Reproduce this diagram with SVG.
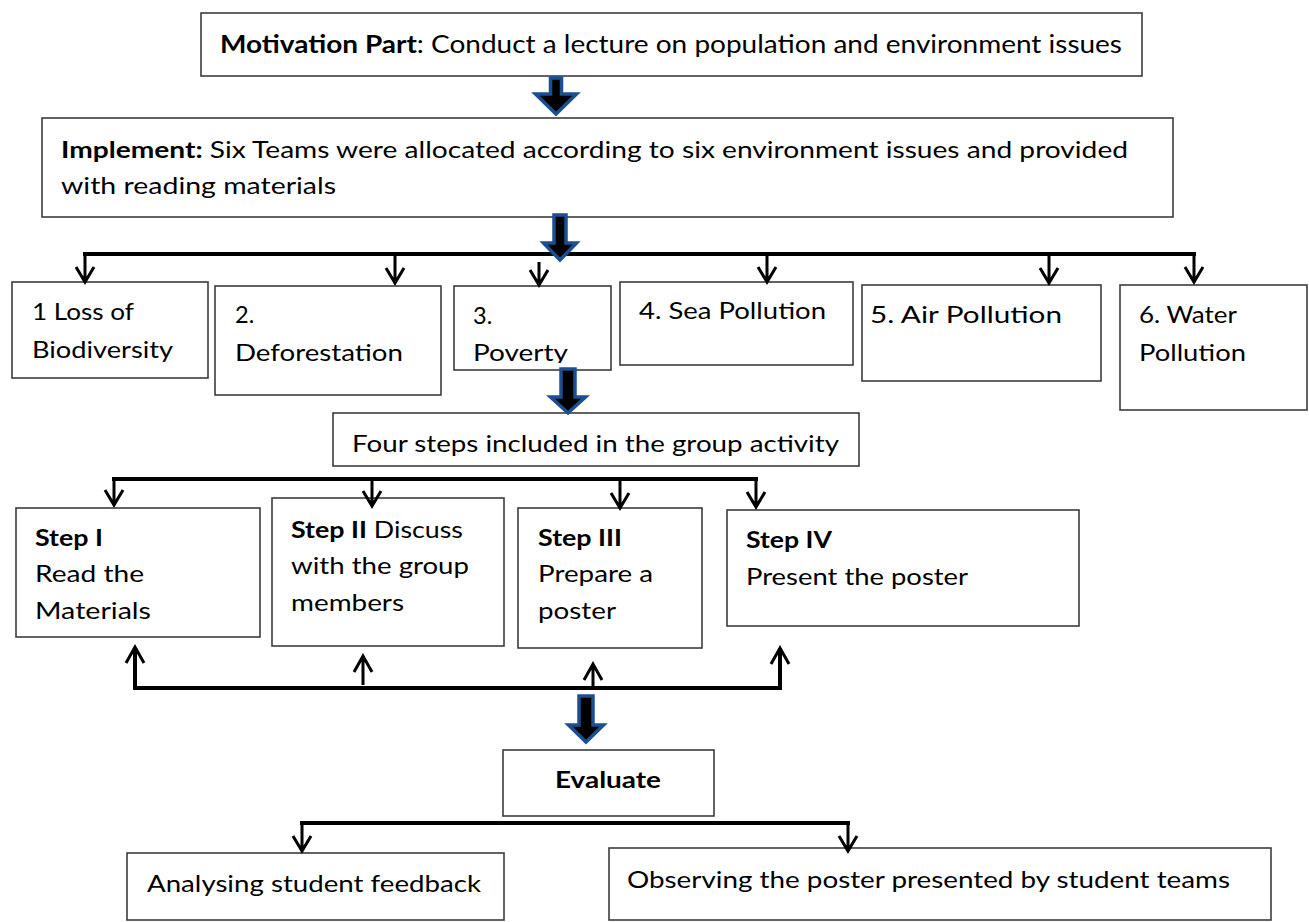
<svg xmlns="http://www.w3.org/2000/svg" width="1309" height="922" viewBox="0 0 1309 922">
<style>
.box{fill:#fff;stroke:#3c3c3c;stroke-width:1.6}
.t{font-family:Lato,"Liberation Sans",sans-serif;font-size:23.5px;fill:#000}
.b{font-weight:bold}
.line{fill:none;stroke:#000;stroke-width:4;stroke-linecap:square;stroke-linejoin:miter}
.arr{fill:none;stroke:#000;stroke-width:3}
.blk{fill:#000;stroke:#1b4f91;stroke-width:3.5;stroke-linejoin:miter}
</style>
<defs>
<clipPath id="clip3"><rect x="454" y="286" width="157" height="77"/></clipPath>
</defs>
<rect width="1309" height="922" fill="#fff"/>

<g id="motivation">
<rect class="box" x="201" y="13" width="941" height="63"/>
<text class="t" x="220" y="53" style="font-size:25.5px" textLength="902" lengthAdjust="spacingAndGlyphs"><tspan class="b">Motivation Part</tspan>: Conduct a lecture on population and environment issues</text>
</g>

<g id="implement">
<rect class="box" x="42" y="118" width="1131" height="99"/>
<text class="t" x="61" y="158" textLength="1067" lengthAdjust="spacingAndGlyphs"><tspan class="b">Implement:</tspan> Six Teams were allocated according to six environment issues and provided</text>
<text class="t" x="61" y="194" textLength="275" lengthAdjust="spacingAndGlyphs">with reading materials</text>
</g>

<g id="issue1">
<rect class="box" x="12" y="282" width="196" height="96"/>
<text class="t" x="32" y="320" textLength="102" lengthAdjust="spacingAndGlyphs">1 Loss of</text>
<text class="t" x="32" y="358" textLength="141" lengthAdjust="spacingAndGlyphs">Biodiversity</text>
</g>

<g id="issue2">
<rect class="box" x="215" y="286" width="226" height="109"/>
<text class="t" x="235" y="323">2.</text>
<text class="t" x="235" y="361" textLength="168" lengthAdjust="spacingAndGlyphs">Deforestation</text>
</g>

<g id="issue3">
<rect class="box" x="454" y="286" width="157" height="84"/>
<g clip-path="url(#clip3)">
<text class="t" x="473" y="324">3.</text>
<text class="t" x="473" y="361" textLength="95" lengthAdjust="spacingAndGlyphs">Poverty</text>
</g>
</g>

<g id="issue4">
<rect class="box" x="620" y="282" width="233" height="83"/>
<text class="t" x="639" y="319" textLength="187" lengthAdjust="spacingAndGlyphs">4. Sea Pollution</text>
</g>

<g id="issue5">
<rect class="box" x="862" y="285" width="239" height="96"/>
<text class="t" x="870" y="323" textLength="192" lengthAdjust="spacingAndGlyphs">5. Air Pollution</text>
</g>

<g id="issue6">
<rect class="box" x="1120" y="285" width="187" height="125"/>
<text class="t" x="1139" y="323" textLength="98" lengthAdjust="spacingAndGlyphs">6. Water</text>
<text class="t" x="1139" y="361" textLength="107" lengthAdjust="spacingAndGlyphs">Pollution</text>
</g>

<g id="four-steps">
<rect class="box" x="333" y="413" width="526" height="53"/>
<text class="t" x="352" y="452" textLength="487" lengthAdjust="spacingAndGlyphs">Four steps included in the group activity</text>
</g>

<g id="step1">
<rect class="box" x="16" y="508" width="244" height="129"/>
<text class="t b" x="35" y="546" textLength="68" lengthAdjust="spacingAndGlyphs">Step I</text>
<text class="t" x="35" y="582" textLength="109" lengthAdjust="spacingAndGlyphs">Read the</text>
<text class="t" x="35" y="619" textLength="116" lengthAdjust="spacingAndGlyphs">Materials</text>
</g>

<g id="step2">
<rect class="box" x="272" y="498" width="232" height="148"/>
<text class="t" x="291" y="538" textLength="172" lengthAdjust="spacingAndGlyphs"><tspan class="b">Step II</tspan> Discuss</text>
<text class="t" x="291" y="574" textLength="178" lengthAdjust="spacingAndGlyphs">with the group</text>
<text class="t" x="291" y="611" textLength="113" lengthAdjust="spacingAndGlyphs">members</text>
</g>

<g id="step3">
<rect class="box" x="518" y="508" width="184" height="140"/>
<text class="t b" x="538" y="546" textLength="84" lengthAdjust="spacingAndGlyphs">Step III</text>
<text class="t" x="538" y="582" textLength="115" lengthAdjust="spacingAndGlyphs">Prepare a</text>
<text class="t" x="538" y="619" textLength="78" lengthAdjust="spacingAndGlyphs">poster</text>
</g>

<g id="step4">
<rect class="box" x="727" y="510" width="352" height="116"/>
<text class="t b" x="746" y="548" textLength="86" lengthAdjust="spacingAndGlyphs">Step IV</text>
<text class="t" x="746" y="585" textLength="222" lengthAdjust="spacingAndGlyphs">Present the poster</text>
</g>

<g id="evaluate">
<rect class="box" x="503" y="750" width="211" height="66"/>
<text class="t b" x="608" y="788" text-anchor="middle" textLength="106" lengthAdjust="spacingAndGlyphs">Evaluate</text>
</g>

<g id="feedback">
<rect class="box" x="127" y="853" width="377" height="67"/>
<text class="t" x="147" y="892" textLength="334" lengthAdjust="spacingAndGlyphs">Analysing student feedback</text>
</g>

<g id="observing">
<rect class="box" x="609" y="848" width="662" height="72"/>
<text class="t" x="627" y="888" textLength="603" lengthAdjust="spacingAndGlyphs">Observing the poster presented by student teams</text>
</g>

<g id="connectors">
<!-- fan-out to six issues -->
<path class="line" d="M85 254 H1194"/>
<path class="arr" d="M85 254 V281 M76 267 L85 282 L94 267"/>
<path class="arr" d="M395 254 V282 M386 268 L395 283 L404 268"/>
<path class="arr" d="M539 262 V284 M530 270 L539 285 L548 270"/>
<path class="arr" d="M767 254 V281 M758 267 L767 282 L776 267"/>
<path class="arr" d="M1049 254 V282 M1040 268 L1049 283 L1058 268"/>
<path class="arr" d="M1194 254 V281 M1185 267 L1194 282 L1203 267"/>

<!-- fan-out to four steps -->
<path class="line" d="M114 479 H756"/>
<path class="arr" d="M114 479 V504 M105 490 L114 505 L123 490"/>
<path class="arr" d="M372 479 V505 M363 491 L372 506 L381 491"/>
<path class="arr" d="M620 479 V507 M611 493 L620 508 L629 493"/>
<path class="arr" d="M756 479 V506 M747 492 L756 507 L765 492"/>

<!-- feedback loop back up to steps -->
<path class="line" d="M135 650 V688 H780 V650"/>
<path class="arr" d="M135 688 V648 M126 663 L135 647 L144 663"/>
<path class="arr" d="M363 685 V657 M354 672 L363 656 L372 672"/>
<path class="arr" d="M593 688 V665 M584 680 L593 664 L602 680"/>
<path class="arr" d="M780 688 V649 M771 664 L780 648 L789 664"/>

<!-- evaluate fan-out -->
<path class="line" d="M302 823 H848"/>
<path class="arr" d="M302 823 V850 M293 836 L302 851 L311 836"/>
<path class="arr" d="M848 823 V850 M839 836 L848 851 L857 836"/>

<!-- block arrows -->
<path class="blk" d="M550.5 78 H561.5 V94 H576.5 L556 114 L535.5 94 H550.5 Z"/>
<path class="blk" d="M554 215 H566 V243 H576.5 L560 260 L543.5 243 H554 Z"/>
<path class="blk" d="M561 369 H575 V397 H585.5 L568 413 L550.5 397 H561 Z"/>
<path class="blk" d="M579 696 H593 V725 H603.5 L586 742 L568.5 725 H579 Z"/>
</g>
</svg>
